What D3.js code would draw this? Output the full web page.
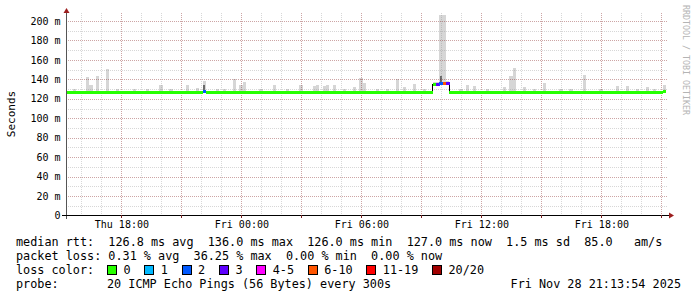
<!DOCTYPE html>
<html>
<head>
<meta charset="utf-8">
<script src="https://cdn.jsdelivr.net/npm/d3@7"></script>
<style>
html, body { margin: 0; padding: 0; background: #fff; }
svg { display: block; font-family: "DejaVu Sans Mono", monospace; }
text { white-space: pre; }
</style>
</head>
<body>
<svg id="chart" width="697" height="297"></svg>
<script>
"use strict"

// 30 hours ending Fri Nov 28 21:13:54 2025, one value per 10 minutes
const startTime = Date.UTC(2025, 10, 27, 15, 13, 54);
const endTime = Date.UTC(2025, 10, 28, 21, 13, 54);
const stepMinutes = 10;

// median rtt in ms
const median = [
    126.4, 126.6, 126.3, 126.5, 126.7, 126.3, 126.4, 126.8, 126.5, 126.3, 126.6, 126.4, 126.9, 126.5, 126.3, 126.6, 126.4, 126.5,
    126.7, 126.4, 126.3, 126.6, 126.5, 126.8, 126.4, 126.3, 126.5, 126.7, 126.4, 126.6, 126.3, 126.5, 126.4, 126.7, 126.5, 126.3,
    126.6, 126.4, 126.8, 126.5, 126.3, 127.0, 126.6, 126.4, 126.5, 126.7, 126.3, 126.6, 126.4, 126.5, 126.8, 126.4, 126.6, 126.3,
    126.5, 126.7, 126.4, 126.2, 126.6, 126.5, 126.8, 126.4, 126.5, 126.3, 126.6, 126.4, 126.7, 126.5, 126.0, 126.6, 126.4, 126.5,
    126.6, 126.3, 126.5, 126.7, 126.4, 126.6, 126.3, 126.5, 126.8, 126.4, 126.6, 126.5, 126.3, 126.7, 126.4, 126.5, 126.6, 126.3,
    126.5, 126.4, 126.7, 126.3, 126.6, 126.5, 126.4, 126.8, 126.5, 126.3, 126.6, 126.4, 126.5, 126.7, 126.3, 126.6, 126.4, 126.5,
    126.4, 126.7, 134.8, 135.2, 135.8, 136.0, 135.6, 126.3, 126.5, 126.6, 126.4, 126.7, 126.5, 126.3, 126.6, 126.4, 126.8, 126.5,
    126.6, 126.3, 126.5, 126.7, 126.4, 126.6, 126.5, 126.3, 126.8, 126.4, 126.6, 126.5, 126.3, 126.7, 126.4, 126.5, 126.6, 126.3,
    126.5, 126.4, 126.7, 126.3, 126.6, 126.5, 126.4, 126.8, 126.5, 126.3, 126.6, 126.4, 126.5, 126.7, 126.3, 126.6, 126.4, 126.5,
    126.6, 126.3, 126.5, 126.7, 126.4, 126.6, 126.5, 126.3, 126.8, 126.4, 126.6, 126.5, 126.3, 126.7, 126.4, 126.5, 126.8, 127.0
];

// lost pings (of 20) where not zero
const lossBins = [41, 111, 112, 113, 114];
const lossCounts = [2, 3, 2, 7, 3];

// smoke: highest ping in the interval (ms)
const spikeBins = [6, 7, 9, 12, 28, 36, 39, 41, 50, 52, 53, 62, 70, 74, 75, 77, 78, 80, 86, 88, 89, 99, 101, 104,
    110, 111, 112, 113, 114, 120, 122, 131, 133, 134, 137, 143, 155, 165, 168, 174, 179,
    2, 15, 20, 24, 31, 45, 47, 58, 66, 83, 93, 96, 107, 118, 126, 140, 148, 151, 160, 171, 176];
const spikeTops = [142, 134, 143, 151, 134, 134, 131, 138, 140, 134, 137, 134, 134, 133, 134, 133, 134, 134, 132, 141, 136, 140, 132, 135,
    137, 137, 206.5, 206.5, 138, 134, 133, 132, 143, 152, 132, 136, 144, 133, 133, 132, 134,
    130, 130, 130, 130, 130, 130, 130, 130, 130, 130, 130, 130, 130, 130, 130, 130, 130, 130, 130, 130, 130];

// dense smoke
const darkBins = [41, 112];
const darkTops = [134, 143];

const yTicks = [0, 20, 40, 60, 80, 100, 120, 140, 160, 180, 200];

const lossLegend = ["0", "1", "2", "3", "4-5", "6-10", "11-19", "20/20"];
const lossColors = ["#26ff00", "#00b8ff", "#0059ff", "#5e00ff", "#ff00ff", "#ff5500", "#ff0000", "#a10000"];

const legendLines = [
    "median rtt:  126.8 ms avg  136.0 ms max  126.0 ms min  127.0 ms now  1.5 ms sd  85.0   am/s",
    "packet loss: 0.31 % avg  36.25 % max  0.00 % min  0.00 % now"
];
const probeText = "20 ICMP Echo Pings (56 Bytes) every 300s";
const stampText = "Fri Nov 28 21:13:54 2025";

function lossColor(n) {
    if (n <= 0) return lossColors[0];
    if (n <= 3) return lossColors[n];
    if (n <= 5) return lossColors[4];
    if (n <= 10) return lossColors[5];
    if (n <= 19) return lossColors[6];
    return lossColors[7];
}

const svg = d3.select("#chart");
const font = "DejaVu Sans Mono";

const x = d3.scaleUtc()
    .domain([new Date(startTime), new Date(endTime)])
    .range([66, 666]);
const y = d3.scaleLinear()
    .domain([0, 207.7])
    .range([215.5, 13.5]);

const binStart = i => new Date(startTime + i * stepMinutes * 60000);
const lossOf = i => {
    const k = lossBins.indexOf(i);
    return k < 0 ? 0 : lossCounts[k];
};

// smoke
svg.append("g").selectAll("rect")
    .data(spikeBins.map((b, k) => ({ b, top: spikeTops[k] })))
    .join("rect")
    .attr("x", d => x(binStart(d.b)))
    .attr("width", d => x(binStart(d.b + 1)) - x(binStart(d.b)))
    .attr("y", d => y(d.top))
    .attr("height", d => y(median[d.b]) - y(d.top))
    .attr("fill", "#d6d6d6")
    .attr("shape-rendering", "crispEdges");

svg.append("g").selectAll("rect")
    .data(darkBins.map((b, k) => ({ b, top: darkTops[k] })))
    .join("rect")
    .attr("x", d => (x(binStart(d.b)) + x(binStart(d.b + 1))) / 2 - 1)
    .attr("width", 2)
    .attr("y", d => y(d.top))
    .attr("height", d => y(median[d.b]) - y(d.top))
    .attr("fill", "#6a6a6a")
    .attr("shape-rendering", "crispEdges");

// grid
const hours = d3.utcHour.every(1).range(new Date(startTime), new Date(endTime));
const minorX = hours.filter(d => d.getUTCHours() % 3 !== 0);
const majorX = hours.filter(d => d.getUTCHours() % 3 === 0);
const labelX = hours.filter(d => d.getUTCHours() % 6 === 0);
const minorY = d3.range(10, 207, 20);
const majorY = yTicks.filter(v => v > 0);

const grid = svg.append("g").attr("stroke-dasharray", "1,1").attr("shape-rendering", "crispEdges");
const px = v => Math.round(v) + 0.5;

grid.selectAll(".gx").data(minorX).join("line")
    .attr("x1", d => px(x(d))).attr("x2", d => px(x(d)))
    .attr("y1", 13).attr("y2", 215)
    .attr("stroke", "rgba(140,140,140,0.35)");
grid.selectAll(".gy").data(minorY).join("line")
    .attr("y1", d => px(y(d))).attr("y2", d => px(y(d)))
    .attr("x1", 66).attr("x2", 668)
    .attr("stroke", "rgba(140,140,140,0.35)");
grid.selectAll(".mx").data(majorX).join("line")
    .attr("x1", d => px(x(d))).attr("x2", d => px(x(d)))
    .attr("y1", 13).attr("y2", 215)
    .attr("stroke", "rgba(130,30,30,0.4)");
grid.selectAll(".my").data(majorY).join("line")
    .attr("y1", d => px(y(d))).attr("y2", d => px(y(d)))
    .attr("x1", 66).attr("x2", 668)
    .attr("stroke", "rgba(130,30,30,0.4)");

// median line: thin black step line underneath, loss coloured band on top
const stepPoints = median.map((v, i) => [x(binStart(i)), y(v)]);
stepPoints.push([x(binStart(median.length)), y(median[median.length - 1])]);
svg.append("path")
    .attr("d", d3.line().curve(d3.curveStepAfter)(stepPoints))
    .attr("fill", "none")
    .attr("stroke", "#000")
    .attr("stroke-width", 1)
    .attr("shape-rendering", "crispEdges");

svg.append("g").selectAll("rect")
    .data(median.map((v, i) => ({ i, v })))
    .join("rect")
    .attr("x", d => x(binStart(d.i)))
    .attr("width", d => x(binStart(d.i + 1)) - x(binStart(d.i)) + 0.3)
    .attr("y", d => Math.round(y(d.v) - 1.5))
    .attr("height", 3)
    .attr("fill", d => lossColor(lossOf(d.i)))
    .attr("shape-rendering", "crispEdges");

// axes
svg.append("line")
    .attr("x1", 66.5).attr("x2", 66.5).attr("y1", 219).attr("y2", 12)
    .attr("stroke", "#555").attr("shape-rendering", "crispEdges");
svg.append("line")
    .attr("x1", 62).attr("x2", 670).attr("y1", 215.5).attr("y2", 215.5)
    .attr("stroke", "#000").attr("shape-rendering", "crispEdges");
svg.append("g").selectAll("line").data(majorX).join("line")
    .attr("x1", d => px(x(d))).attr("x2", d => px(x(d)))
    .attr("y1", 215).attr("y2", 218)
    .attr("stroke", "#7a2020").attr("shape-rendering", "crispEdges");

svg.append("path").attr("d", "M63.5,13 L66.5,8 L69.5,13 Z").attr("fill", "#9c1e1e");
svg.append("path").attr("d", "M669,212.5 L674,215.5 L669,218.5 Z").attr("fill", "#9c1e1e");

const xAxis = svg.append("g")
    .attr("transform", "translate(0,215.5)")
    .call(d3.axisBottom(x).tickValues(labelX).tickFormat(d3.utcFormat("%a %H:%M")).tickSize(0).tickPadding(5));
xAxis.select(".domain").remove();
xAxis.selectAll("text").attr("font-family", font).attr("font-size", "10px").attr("fill", "#000");

const yAxis = svg.append("g")
    .attr("transform", "translate(66.5,0)")
    .call(d3.axisLeft(y).tickValues(yTicks).tickFormat(d => d === 0 ? "0" : d + " m").tickSize(0).tickPadding(6));
yAxis.select(".domain").remove();
yAxis.selectAll("text").attr("font-family", font).attr("font-size", "10px").attr("fill", "#000");

// titles
svg.append("text")
    .attr("transform", "translate(15,114) rotate(-90)")
    .attr("text-anchor", "middle")
    .attr("font-family", font).attr("font-size", "11px")
    .text("Seconds");

svg.append("text")
    .attr("transform", "translate(683,5) rotate(90)")
    .attr("font-family", font).attr("font-size", "8.3px")
    .attr("fill", "#b4b4b4")
    .text("RRDTOOL / TOBI OETIKER");

// legend
const legendSize = "11.8px";
svg.append("g").selectAll("text").data(legendLines).join("text")
    .attr("x", 16)
    .attr("y", (d, i) => 245.5 + i * 14)
    .attr("font-family", font).attr("font-size", legendSize)
    .text(d => d);

svg.append("text").attr("x", 16).attr("y", 274)
    .attr("font-family", font).attr("font-size", legendSize)
    .text("loss color:");

let lx = 107.5;
const charW = 7.1;
lossLegend.forEach((label, k) => {
    svg.append("rect")
        .attr("x", lx).attr("y", 265.5).attr("width", 9).attr("height", 9)
        .attr("fill", lossColors[k]).attr("stroke", "#000").attr("stroke-width", 1)
        .attr("shape-rendering", "crispEdges");
    svg.append("text").attr("x", lx + 16).attr("y", 274)
        .attr("font-family", font).attr("font-size", legendSize)
        .text(label);
    lx += 16 + label.length * charW + 2 * charW;
});

svg.append("text").attr("x", 16).attr("y", 288)
    .attr("font-family", font).attr("font-size", legendSize)
    .text("probe:");
svg.append("text").attr("x", 107).attr("y", 288)
    .attr("font-family", font).attr("font-size", legendSize)
    .text(probeText);
svg.append("text").attr("x", 681).attr("y", 288)
    .attr("text-anchor", "end")
    .attr("font-family", font).attr("font-size", legendSize)
    .text(stampText);
</script>
</body>
</html>
